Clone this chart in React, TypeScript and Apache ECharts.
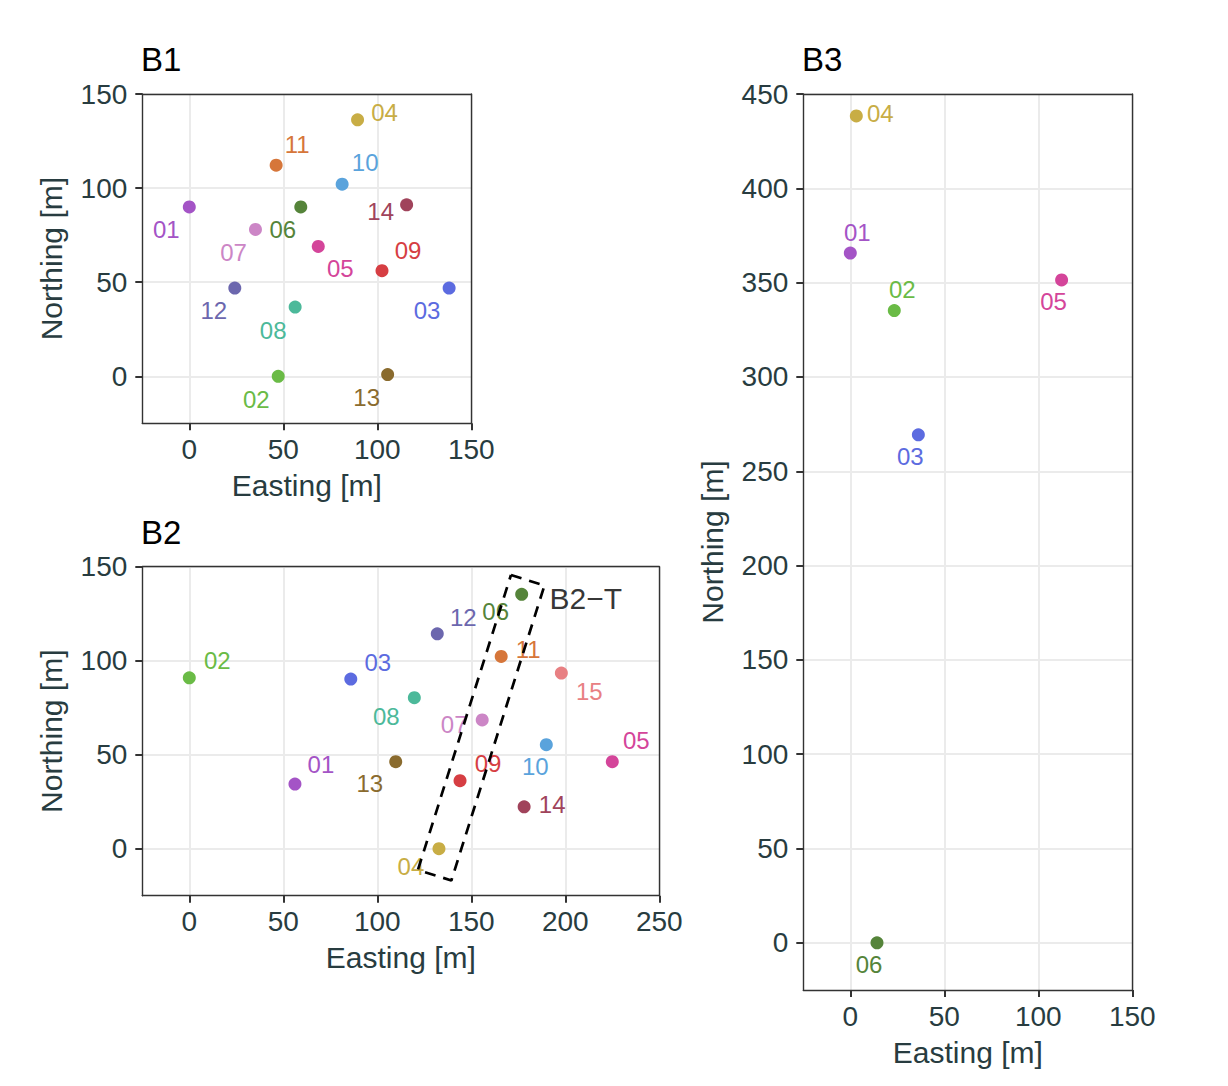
import React, { useEffect, useRef } from "react";
import * as echarts from "echarts";

// Station colours (shared across panels)
const stationColors: Record<string, string> = {
  "01": "#a454c6",
  "02": "#6abb46",
  "03": "#5c6be0",
  "04": "#c8ad45",
  "05": "#d4459a",
  "06": "#55843a",
  "07": "#cc86c6",
  "08": "#4cb99a",
  "09": "#d63e43",
  "10": "#5aa3dc",
  "11": "#d6763a",
  "12": "#6c67ae",
  "13": "#8a6b2e",
  "14": "#a0435b",
  "15": "#e88083",
};

// Panel B1
const b1Ids = ["01", "02", "03", "04", "05", "06", "07", "08", "09", "10", "11", "12", "13", "14"];
const b1East = [0, 47.3, 138.2, 89.5, 68.6, 59.3, 35.2, 56.3, 102.5, 81.3, 46.2, 24.2, 105.5, 115.6];
const b1North = [90, 0, 46.9, 136.3, 69, 90, 78, 36.8, 56.1, 102.1, 112.2, 46.9, 0.9, 91.1];

// Panel B2
const b2Ids = ["01", "02", "03", "04", "05", "06", "07", "08", "09", "10", "11", "12", "13", "14", "15"];
const b2East = [56.2, 0, 85.9, 132.8, 225.0, 176.8, 155.8, 119.7, 144.0, 189.9, 165.9, 131.9, 109.8, 178.1, 197.9];
const b2North = [34.4, 90.9, 90.2, 0, 46.3, 135.3, 68.5, 80.3, 36.2, 55.3, 102.3, 114.3, 46.3, 22.3, 93.4];

// Transect B2-T outline (closed)
const transectEast = [171.1, 188.9, 139.4, 121.6, 171.1];
const transectNorth = [145.6, 140.0, -16.9, -11.3, 145.6];
const transectName = "B2\u2212T";

// Panel B3
const b3Ids = ["01", "02", "03", "04", "05", "06"];
const b3East = [0, 23.4, 36.2, 3.2, 112.4, 14.2];
const b3North = [365.7, 335.2, 269.3, 438.4, 351.4, 0];

// Tick values
const ticks150 = [0, 50, 100, 150];
const ticks250 = [0, 50, 100, 150, 200, 250];
const ticks450 = [0, 50, 100, 150, 200, 250, 300, 350, 400, 450];

// Label nudges (repel offsets, px)
const b1Nudge = [[-23, 23], [-22, 23], [-22, 22], [27, -7], [22, 22], [-18, 23], [-22, 23], [-22, 23], [26, -20], [23, -22], [21, -21], [-21, 22], [-21, 23], [-26, 7]];
const b2Nudge = [[26, -20], [28, -17], [27, -17], [-28, 18], [24, -21], [-26, 17], [-28, 5], [-28, 19], [28, -17], [-11, 22], [27, -7], [26, -16], [-26, 22], [28, -2], [28, 18]];
const b3Nudge = [[7, -21], [8, -21], [-8, 22], [24, -2], [-8, 22], [-8, 22]];

const FONT = "Liberation Sans";
const TEXT = "#283c40";
const FRAME = "#333333";

function xAxes(gridIndex: number, min: number, max: number, ticks: number[]) {
  return [
    {
      type: "value",
      gridIndex,
      min,
      max,
      position: "bottom",
      name: "Easting [m]",
      nameLocation: "middle",
      nameGap: 47,
      nameTextStyle: { fontSize: 30, color: TEXT, fontFamily: FONT },
      axisLine: { show: true, onZero: false, lineStyle: { color: FRAME, width: 1.4 } },
      axisTick: { show: true, length: 7, customValues: ticks, lineStyle: { color: FRAME, width: 2 } },
      axisLabel: { customValues: ticks, fontSize: 28, color: TEXT, fontFamily: FONT, margin: 12 },
      splitLine: { show: true, lineStyle: { color: "#ebebeb", width: 2 } },
    },
    {
      type: "value",
      gridIndex,
      min,
      max,
      position: "top",
      axisLine: { show: true, onZero: false, lineStyle: { color: FRAME, width: 1.4 } },
      axisTick: { show: false },
      axisLabel: { show: false },
      splitLine: { show: false },
    },
  ];
}

function yAxes(gridIndex: number, min: number, max: number, ticks: number[]) {
  return [
    {
      type: "value",
      gridIndex,
      min,
      max,
      position: "left",
      name: "Northing [m]",
      nameLocation: "middle",
      nameGap: 76,
      nameTextStyle: { fontSize: 30, color: TEXT, fontFamily: FONT },
      axisLine: { show: true, onZero: false, lineStyle: { color: FRAME, width: 1.4 } },
      axisTick: { show: true, length: 7, customValues: ticks, lineStyle: { color: FRAME, width: 2 } },
      axisLabel: { customValues: ticks, fontSize: 28, color: TEXT, fontFamily: FONT, margin: 15 },
      splitLine: { show: true, lineStyle: { color: "#ebebeb", width: 2 } },
    },
    {
      type: "value",
      gridIndex,
      min,
      max,
      position: "right",
      axisLine: { show: true, onZero: false, lineStyle: { color: FRAME, width: 1.4 } },
      axisTick: { show: false },
      axisLabel: { show: false },
      splitLine: { show: false },
    },
  ];
}

function pointSeries(axisIndex: number, ids: string[], east: number[], north: number[], nudge: number[][]) {
  return {
    type: "scatter",
    xAxisIndex: axisIndex,
    yAxisIndex: axisIndex,
    symbolSize: 13,
    silent: true,
    z: 3,
    itemStyle: { opacity: 1 },
    label: {
      show: true,
      position: "inside",
      formatter: "{b}",
      fontSize: 24,
      fontFamily: FONT,
      opacity: 1,
    },
    data: ids.map((id, i) => ({
      name: id,
      value: [east[i], north[i]],
      itemStyle: { color: stationColors[id], opacity: 1 },
      label: { offset: nudge[i], color: stationColors[id] },
    })),
  };
}

const titleStyle = { fontSize: 33, fontWeight: "normal", color: "#000", fontFamily: FONT };

export default function App() {
  const ref = useRef<HTMLDivElement>(null);
  useEffect(() => {
    document.body.style.margin = "0";
    if (!ref.current) return;
    const chart = echarts.init(ref.current, null, { renderer: "svg" });
    chart.setOption({
      animation: false,
      backgroundColor: "#ffffff",
      title: [
        { text: "B1", left: 141, top: 43, padding: 0, textStyle: titleStyle },
        { text: "B2", left: 141, top: 515.5, padding: 0, textStyle: titleStyle },
        { text: "B3", left: 802, top: 43, padding: 0, textStyle: titleStyle },
      ],
      grid: [
        { left: 142.3, top: 94, width: 329, height: 329.3, containLabel: false, outerBoundsMode: "none" },
        { left: 142.3, top: 566.7, width: 517, height: 329, containLabel: false, outerBoundsMode: "none" },
        { left: 803.3, top: 94, width: 329, height: 896, containLabel: false, outerBoundsMode: "none" },
      ],
      xAxis: [
        ...xAxes(0, -25, 150, ticks150),
        ...xAxes(1, -25, 250, ticks250),
        ...xAxes(2, -25, 150, ticks150),
      ],
      yAxis: [
        ...yAxes(0, -25, 150, ticks150),
        ...yAxes(1, -25, 150, ticks150),
        ...yAxes(2, -25, 450, ticks450),
      ],
      series: [
        pointSeries(0, b1Ids, b1East, b1North, b1Nudge),
        pointSeries(2, b2Ids, b2East, b2North, b2Nudge),
        pointSeries(4, b3Ids, b3East, b3North, b3Nudge),
        {
          type: "line",
          xAxisIndex: 2,
          yAxisIndex: 2,
          symbol: "none",
          silent: true,
          z: 5,
          lineStyle: { color: "#000", width: 2.7, type: [11, 8], opacity: 1 },
          data: transectEast.map((e, i) => [e, transectNorth[i]]),
        },
        {
          type: "scatter",
          xAxisIndex: 2,
          yAxisIndex: 2,
          symbolSize: 0,
          silent: true,
          z: 6,
          label: {
            show: true,
            position: "right",
            distance: 5,
            offset: [0, 13],
            formatter: transectName,
            fontSize: 30,
            fontFamily: FONT,
            color: "#000",
          },
          data: [[transectEast[1], transectNorth[1]]],
        },
      ],
    });
    return () => chart.dispose();
  }, []);
  return <div ref={ref} style={{ width: 1228, height: 1086 }} />;
}
